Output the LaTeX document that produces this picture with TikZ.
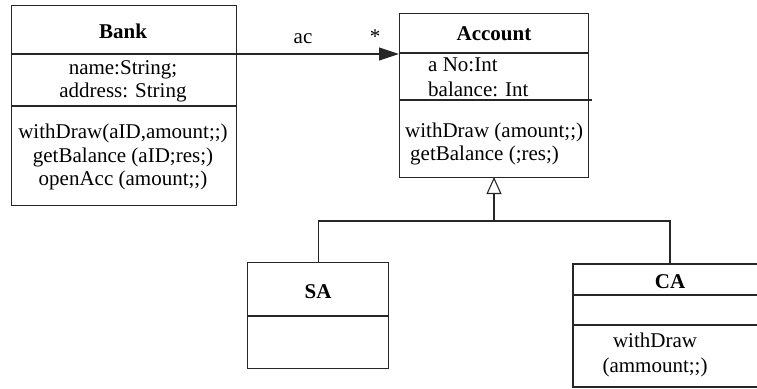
\documentclass[tikz,border=0pt]{standalone}
\usepackage{fontspec}
\setmainfont{Liberation Serif}
\usetikzlibrary{arrows.meta}
\begin{document}
\begin{tikzpicture}[x=1pt,y=-1pt,
  box/.style={draw=black!85, line width=1.1pt, rectangle, inner sep=0pt, anchor=north west},
  hold/.style={rectangle, inner sep=0pt, anchor=north west},
  txt/.style={inner sep=0pt, anchor=base, font=\fontsize{21}{23}\selectfont},
  txtw/.style={txt, anchor=base west},
  ttl/.style={txt, font=\fontsize{21}{23}\selectfont\bfseries},
  ln/.style={line width=1.1pt, draw=black!85},
  assoc/.style={ln, -{Triangle[length=20pt,width=13pt]}},
  gen/.style={ln, -{Triangle[open,length=17pt,width=15pt]}}]
\useasboundingbox (0,0) rectangle (757,388);

% Bank
\node[box, minimum width=225pt, minimum height=200pt] (bank) at (11,5) {};
\draw[ln] (11,54) -- (236,54);
\draw[ln] (11,106) -- (236,106);
\node[ttl] (bankt) at (123,38) {Bank};
\node[txt] (bank1) at (123,74) {name:String;};
\node[txt] (bank2) at (123,97) {address: String};
\node[txt] (bank3) at (123,138) {withDraw(aID,amount;;)};
\node[txt] (bank4) at (123,162) {getBalance (aID;res;)};
\node[txt] (bank5) at (123,185) {openAcc (amount;;)};

% Account
\node[box, minimum width=189pt, minimum height=164pt] (account) at (399,13) {};
\draw[ln] (399,53) -- (588,53);
\draw[ln] (399,100) -- (592,100);
\node[ttl] (acct) at (494,40) {Account};
\node[txtw] (acc1) at (428,71) {a No:Int};
\node[txtw] (acc2) at (428,96) {balance: Int};
\node[txtw] (acc3) at (405,137) {withDraw (amount;;)};
\node[txtw] (acc4) at (410,160) {getBalance (;res;)};

% association
\coordinate (bankr) at (236,54);
\coordinate (accl) at (399,54);
\draw[assoc] (bankr) -- (accl);
\node[txt] (ac) at (303,43) {ac};
\node[txt] (star) at (375,43) {*};

% SA
\node[box, minimum width=141pt, minimum height=106pt] (sa) at (247,262) {};
\draw[ln] (247,316) -- (388,316);
\node[ttl] (sat) at (318,298) {SA};

% CA (open on the right)
\node[hold, minimum width=184pt, minimum height=123pt] (ca) at (573,264) {};
\draw[ln] (757,264) -- (573,264) -- (573,387) -- (757,387);
\draw[ln] (573,295) -- (757,295);
\draw[ln] (573,325) -- (757,325);
\node[ttl] (cat) at (670,288) {CA};
\node[txt] (ca1) at (655,347) {withDraw};
\node[txt] (ca2) at (655,372) {(ammount;;)};

% generalization
\coordinate (junc) at (494,221);
\coordinate (acctb) at (494,177);
\coordinate (catop) at (670,264);
\draw[gen] (junc) -- (acctb);
\draw[ln] (sa.north) |- (junc) -| (catop);
\end{tikzpicture}
\end{document}
